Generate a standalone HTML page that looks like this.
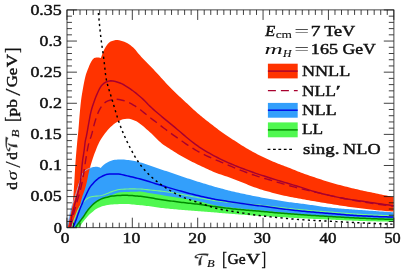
<!DOCTYPE html>
<html lang="en"><head><meta charset="utf-8"><title>Beam thrust spectrum</title>
<style>html,body{margin:0;padding:0;background:#fff;overflow:hidden}svg{display:block;will-change:transform}</style></head>
<body>
<svg width="407" height="272" viewBox="0 0 407 272" role="img" aria-label="Beam thrust spectrum plot">
<rect width="407" height="272" fill="#fff"/>
<defs><clipPath id="c"><rect x="67.0" y="9.9" width="326.9" height="217.8"/></clipPath></defs>
<g clip-path="url(#c)" fill="none" stroke-linejoin="round">
<path d="M71.50,227.50 L72.05,225.86 L72.60,224.23 L73.18,222.61 L73.76,220.99 L74.36,219.37 L74.97,217.76 L75.57,216.14 L76.18,214.52 L76.81,212.91 L77.47,211.32 L78.16,209.74 L78.90,208.20 L79.72,206.68 L80.65,205.23 L81.67,203.83 L82.78,202.49 L83.98,201.29 L85.27,200.09 L86.66,198.93 L88.11,197.93 L89.62,197.22 L91.18,196.82 L92.82,196.52 L94.53,196.30 L96.28,196.12 L98.05,195.93 L99.80,195.72 L101.52,195.45 L103.18,195.07 L104.81,194.50 L106.41,193.84 L108.02,193.20 L109.61,192.53 L111.20,191.86 L112.81,191.26 L114.45,190.73 L116.11,190.21 L117.79,189.76 L119.47,189.45 L121.17,189.31 L122.88,189.19 L124.60,189.09 L126.33,189.01 L128.06,188.95 L129.79,188.91 L131.51,188.90 L133.24,188.91 L134.96,188.92 L136.69,188.94 L138.41,188.97 L140.13,189.00 L141.85,189.09 L143.56,189.24 L145.27,189.43 L146.99,189.65 L148.70,189.86 L150.41,190.04 L152.13,190.21 L153.85,190.37 L155.56,190.53 L157.28,190.70 L158.99,190.88 L160.70,191.08 L162.41,191.30 L164.12,191.52 L165.82,191.76 L167.53,192.01 L169.23,192.27 L170.94,192.54 L172.64,192.81 L174.34,193.09 L176.04,193.38 L177.73,193.68 L179.42,194.00 L181.12,194.33 L182.81,194.66 L184.50,195.01 L186.19,195.35 L187.88,195.69 L189.57,196.02 L191.26,196.34 L192.95,196.67 L194.64,196.99 L196.34,197.32 L198.03,197.64 L199.72,197.95 L201.42,198.26 L203.11,198.57 L204.81,198.89 L206.50,199.20 L208.20,199.50 L209.90,199.80 L211.60,200.08 L213.30,200.35 L215.00,200.60 L216.71,200.84 L218.41,201.06 L220.12,201.28 L221.83,201.49 L223.55,201.69 L225.26,201.89 L226.97,202.08 L228.69,202.26 L230.40,202.44 L232.11,202.62 L233.83,202.78 L235.54,202.94 L237.26,203.10 L238.98,203.25 L240.69,203.41 L242.41,203.56 L244.12,203.72 L245.84,203.88 L247.56,204.03 L249.27,204.19 L250.99,204.34 L252.71,204.50 L254.42,204.66 L256.14,204.82 L257.85,204.98 L259.57,205.16 L261.28,205.34 L262.99,205.53 L264.70,205.72 L266.41,205.93 L268.12,206.14 L269.83,206.35 L271.55,206.56 L273.26,206.76 L274.97,206.97 L276.68,207.16 L278.39,207.36 L280.10,207.54 L281.82,207.73 L283.53,207.92 L285.24,208.10 L286.96,208.28 L288.67,208.46 L290.38,208.64 L292.10,208.82 L293.81,209.00 L295.53,209.18 L297.24,209.35 L298.95,209.52 L300.67,209.69 L302.38,209.86 L304.10,210.02 L305.82,210.17 L307.53,210.32 L309.25,210.46 L310.97,210.60 L312.68,210.74 L314.40,210.87 L316.12,211.00 L317.84,211.13 L319.56,211.27 L321.27,211.40 L322.99,211.53 L324.71,211.66 L326.43,211.79 L328.15,211.92 L329.86,212.05 L331.58,212.17 L333.30,212.30 L335.02,212.43 L336.74,212.56 L338.46,212.68 L340.17,212.81 L341.89,212.94 L343.61,213.08 L345.33,213.22 L347.05,213.36 L348.76,213.50 L350.48,213.63 L352.20,213.77 L353.92,213.90 L355.64,214.02 L357.36,214.14 L359.07,214.25 L360.79,214.35 L362.51,214.44 L364.23,214.54 L365.95,214.63 L367.67,214.73 L369.39,214.82 L371.12,214.91 L372.84,214.99 L374.56,215.08 L376.28,215.16 L378.00,215.24 L379.72,215.31 L381.44,215.39 L383.16,215.46 L384.89,215.52 L386.61,215.59 L388.33,215.65 L390.05,215.70 L391.78,215.75 L393.50,215.80 L393.50,221.70 L391.87,221.68 L390.25,221.66 L388.62,221.63 L386.99,221.60 L385.36,221.57 L383.74,221.54 L382.11,221.51 L380.48,221.48 L378.86,221.44 L377.23,221.40 L375.60,221.36 L373.98,221.33 L372.35,221.29 L370.72,221.24 L369.10,221.20 L367.47,221.16 L365.84,221.11 L364.22,221.06 L362.59,221.01 L360.96,220.95 L359.34,220.90 L357.71,220.84 L356.08,220.78 L354.46,220.72 L352.83,220.65 L351.21,220.59 L349.58,220.52 L347.95,220.46 L346.33,220.39 L344.70,220.31 L343.08,220.24 L341.45,220.16 L339.83,220.08 L338.20,220.00 L336.58,219.92 L334.95,219.84 L333.32,219.76 L331.70,219.68 L330.07,219.60 L328.45,219.53 L326.82,219.46 L325.20,219.39 L323.57,219.32 L321.94,219.25 L320.32,219.18 L318.69,219.11 L317.07,219.04 L315.44,218.97 L313.82,218.90 L312.19,218.83 L310.56,218.76 L308.94,218.69 L307.31,218.61 L305.69,218.53 L304.06,218.45 L302.44,218.37 L300.81,218.29 L299.19,218.21 L297.56,218.12 L295.94,218.03 L294.31,217.94 L292.69,217.85 L291.06,217.76 L289.44,217.67 L287.81,217.57 L286.19,217.47 L284.56,217.37 L282.94,217.27 L281.32,217.17 L279.69,217.07 L278.07,216.96 L276.44,216.87 L274.82,216.77 L273.19,216.68 L271.57,216.58 L269.94,216.49 L268.32,216.40 L266.70,216.30 L265.07,216.21 L263.45,216.11 L261.82,216.01 L260.20,215.91 L258.57,215.81 L256.95,215.70 L255.33,215.60 L253.70,215.49 L252.08,215.38 L250.46,215.27 L248.83,215.16 L247.21,215.04 L245.58,214.93 L243.96,214.81 L242.34,214.70 L240.72,214.58 L239.09,214.46 L237.47,214.34 L235.85,214.21 L234.23,214.09 L232.60,213.96 L230.98,213.83 L229.36,213.69 L227.74,213.56 L226.12,213.43 L224.49,213.29 L222.87,213.15 L221.25,213.02 L219.63,212.88 L218.01,212.75 L216.39,212.61 L214.76,212.48 L213.14,212.35 L211.52,212.22 L209.90,212.09 L208.27,211.96 L206.65,211.83 L205.03,211.70 L203.41,211.57 L201.79,211.44 L200.16,211.31 L198.54,211.19 L196.92,211.06 L195.30,210.94 L193.67,210.82 L192.05,210.70 L190.43,210.57 L188.80,210.45 L187.18,210.33 L185.56,210.20 L183.94,210.07 L182.32,209.94 L180.69,209.80 L179.07,209.66 L177.45,209.52 L175.83,209.37 L174.21,209.22 L172.59,209.07 L170.97,208.91 L169.35,208.75 L167.73,208.59 L166.11,208.42 L164.49,208.24 L162.88,208.07 L161.26,207.88 L159.65,207.69 L158.03,207.49 L156.42,207.27 L154.81,207.03 L153.20,206.79 L151.59,206.55 L149.98,206.32 L148.36,206.11 L146.75,205.91 L145.13,205.72 L143.52,205.54 L141.90,205.37 L140.28,205.20 L138.66,205.04 L137.04,204.89 L135.42,204.74 L133.80,204.59 L132.18,204.42 L130.55,204.26 L128.93,204.12 L127.31,204.03 L125.68,204.00 L124.06,204.01 L122.43,204.04 L120.80,204.08 L119.17,204.12 L117.54,204.17 L115.91,204.23 L114.28,204.31 L112.66,204.40 L111.05,204.51 L109.43,204.68 L107.81,204.94 L106.18,205.27 L104.57,205.67 L102.98,206.11 L101.43,206.60 L99.92,207.13 L98.47,207.71 L97.06,208.45 L95.68,209.35 L94.35,210.35 L93.05,211.39 L91.79,212.44 L90.57,213.50 L89.38,214.61 L88.23,215.78 L87.11,216.98 L86.03,218.20 L84.98,219.43 L83.96,220.70 L82.97,222.00 L82.02,223.32 L81.12,224.68 L80.28,226.07 L79.50,227.50Z" fill="#50F850"/>
<path d="M67.20,227.50 L67.38,226.55 L67.56,225.59 L67.75,224.64 L67.93,223.69 L68.12,222.74 L68.31,221.79 L68.51,220.84 L68.70,219.89 L68.89,218.94 L69.09,217.99 L69.29,217.04 L69.49,216.09 L69.69,215.14 L69.88,214.19 L70.08,213.24 L70.28,212.29 L70.49,211.34 L70.70,210.39 L70.93,209.45 L71.16,208.51 L71.42,207.58 L71.69,206.65 L71.99,205.73 L72.31,204.82 L72.63,203.90 L72.96,202.99 L73.29,202.07 L73.61,201.16 L73.92,200.24 L74.22,199.31 L74.52,198.39 L74.81,197.47 L75.09,196.54 L75.38,195.61 L75.67,194.69 L75.95,193.76 L76.24,192.83 L76.53,191.91 L76.82,190.98 L77.10,190.05 L77.39,189.13 L77.67,188.20 L77.96,187.27 L78.25,186.35 L78.54,185.42 L78.84,184.50 L79.14,183.58 L79.45,182.66 L79.76,181.74 L80.07,180.82 L80.39,179.91 L80.70,178.99 L81.00,178.07 L81.29,177.13 L81.60,176.21 L81.96,175.33 L82.39,174.44 L82.86,173.57 L83.38,172.74 L83.95,171.97 L84.59,171.29 L85.33,170.65 L86.13,170.06 L86.95,169.53 L87.79,169.05 L88.66,168.62 L89.55,168.24 L90.47,167.91 L91.40,167.63 L92.33,167.37 L93.28,167.10 L94.23,166.88 L95.19,166.73 L96.14,166.71 L97.11,166.82 L98.07,167.02 L99.00,167.25 L99.91,167.58 L100.80,168.00 L100.80,168.00 L101.71,166.76 L102.73,165.66 L103.88,164.70 L105.14,163.83 L106.44,163.03 L107.76,162.28 L109.11,161.59 L110.50,161.00 L111.93,160.43 L113.39,160.00 L114.86,159.80 L116.37,159.64 L117.89,159.52 L119.41,159.44 L120.93,159.40 L122.44,159.43 L123.95,159.54 L125.47,159.70 L126.97,159.88 L128.48,160.06 L129.98,160.25 L131.48,160.48 L132.98,160.72 L134.47,161.00 L135.96,161.29 L137.43,161.62 L138.89,161.98 L140.35,162.39 L141.81,162.82 L143.26,163.27 L144.70,163.74 L146.15,164.22 L147.59,164.70 L149.03,165.18 L150.47,165.65 L151.91,166.14 L153.34,166.63 L154.77,167.14 L156.19,167.65 L157.62,168.16 L159.05,168.67 L160.48,169.17 L161.92,169.66 L163.35,170.15 L164.79,170.63 L166.22,171.12 L167.66,171.61 L169.09,172.09 L170.53,172.58 L171.96,173.07 L173.40,173.56 L174.83,174.05 L176.26,174.55 L177.70,175.04 L179.13,175.53 L180.57,176.02 L182.00,176.50 L183.44,176.98 L184.88,177.46 L186.32,177.93 L187.76,178.40 L189.20,178.87 L190.64,179.34 L192.08,179.80 L193.53,180.27 L194.97,180.72 L196.42,181.18 L197.86,181.64 L199.31,182.09 L200.76,182.53 L202.21,182.98 L203.66,183.43 L205.10,183.87 L206.55,184.31 L208.01,184.75 L209.46,185.19 L210.91,185.62 L212.37,186.04 L213.82,186.46 L215.28,186.88 L216.74,187.29 L218.20,187.69 L219.66,188.09 L221.13,188.48 L222.59,188.87 L224.06,189.25 L225.52,189.64 L226.99,190.02 L228.46,190.39 L229.93,190.77 L231.40,191.14 L232.87,191.50 L234.35,191.85 L235.82,192.19 L237.30,192.52 L238.78,192.85 L240.26,193.18 L241.74,193.50 L243.23,193.81 L244.71,194.12 L246.19,194.43 L247.68,194.73 L249.16,195.03 L250.65,195.33 L252.14,195.63 L253.62,195.92 L255.11,196.22 L256.60,196.51 L258.08,196.80 L259.57,197.09 L261.06,197.38 L262.55,197.66 L264.04,197.95 L265.53,198.22 L267.02,198.50 L268.51,198.77 L270.00,199.04 L271.50,199.30 L272.99,199.56 L274.48,199.81 L275.98,200.06 L277.47,200.31 L278.97,200.55 L280.47,200.79 L281.96,201.02 L283.46,201.25 L284.96,201.48 L286.46,201.70 L287.96,201.91 L289.46,202.13 L290.96,202.33 L292.47,202.53 L293.97,202.72 L295.47,202.91 L296.98,203.10 L298.48,203.28 L299.99,203.47 L301.49,203.65 L302.99,203.84 L304.50,204.03 L306.00,204.23 L307.50,204.44 L309.00,204.66 L310.50,204.88 L312.00,205.11 L313.50,205.34 L315.00,205.56 L316.50,205.79 L318.00,206.02 L319.50,206.25 L321.00,206.47 L322.50,206.68 L324.00,206.88 L325.50,207.08 L327.01,207.27 L328.51,207.44 L330.02,207.60 L331.52,207.75 L333.03,207.90 L334.54,208.03 L336.05,208.17 L337.56,208.30 L339.07,208.42 L340.58,208.54 L342.09,208.66 L343.60,208.77 L345.11,208.89 L346.63,209.00 L348.14,209.11 L349.65,209.22 L351.16,209.33 L352.68,209.43 L354.19,209.54 L355.70,209.65 L357.21,209.77 L358.72,209.88 L360.24,209.99 L361.75,210.10 L363.26,210.21 L364.77,210.32 L366.28,210.43 L367.79,210.54 L369.31,210.65 L370.82,210.76 L372.33,210.87 L373.84,210.97 L375.35,211.08 L376.86,211.19 L378.38,211.29 L379.89,211.39 L381.40,211.50 L382.91,211.60 L384.43,211.70 L385.94,211.80 L387.45,211.90 L388.96,212.00 L390.47,212.10 L391.99,212.20 L393.50,212.30 L393.50,218.60 L391.82,218.55 L390.15,218.50 L388.47,218.45 L386.80,218.40 L385.12,218.35 L383.44,218.30 L381.77,218.24 L380.09,218.19 L378.42,218.13 L376.74,218.08 L375.06,218.02 L373.39,217.96 L371.71,217.90 L370.04,217.84 L368.36,217.78 L366.68,217.71 L365.01,217.65 L363.33,217.59 L361.66,217.52 L359.98,217.46 L358.31,217.39 L356.63,217.33 L354.95,217.26 L353.28,217.19 L351.60,217.12 L349.93,217.05 L348.25,216.98 L346.58,216.91 L344.90,216.83 L343.23,216.76 L341.55,216.68 L339.88,216.60 L338.20,216.52 L336.53,216.44 L334.85,216.35 L333.18,216.27 L331.50,216.18 L329.83,216.09 L328.16,216.00 L326.48,215.90 L324.81,215.80 L323.13,215.69 L321.46,215.58 L319.79,215.47 L318.12,215.36 L316.44,215.24 L314.77,215.12 L313.10,215.00 L311.42,214.88 L309.75,214.75 L308.08,214.62 L306.41,214.50 L304.74,214.37 L303.06,214.24 L301.39,214.11 L299.72,213.98 L298.05,213.85 L296.38,213.71 L294.71,213.57 L293.04,213.43 L291.36,213.29 L289.69,213.14 L288.02,212.99 L286.35,212.85 L284.68,212.70 L283.01,212.55 L281.34,212.39 L279.67,212.24 L278.00,212.09 L276.33,211.94 L274.66,211.79 L272.99,211.63 L271.32,211.48 L269.65,211.32 L267.98,211.16 L266.31,211.00 L264.65,210.84 L262.98,210.68 L261.31,210.52 L259.64,210.37 L257.97,210.21 L256.30,210.06 L254.63,209.90 L252.96,209.75 L251.29,209.60 L249.62,209.45 L247.95,209.30 L246.28,209.14 L244.61,208.99 L242.94,208.82 L241.27,208.66 L239.60,208.48 L237.94,208.30 L236.27,208.12 L234.60,207.93 L232.94,207.73 L231.27,207.54 L229.60,207.34 L227.94,207.13 L226.27,206.91 L224.61,206.69 L222.94,206.46 L221.28,206.22 L219.63,205.97 L217.97,205.70 L216.32,205.43 L214.68,205.14 L213.04,204.82 L211.40,204.45 L209.77,204.06 L208.15,203.64 L206.52,203.22 L204.90,202.79 L203.27,202.37 L201.64,201.97 L200.00,201.60 L198.36,201.25 L196.72,200.90 L195.08,200.57 L193.43,200.24 L191.79,199.93 L190.14,199.62 L188.49,199.33 L186.83,199.06 L185.18,198.79 L183.52,198.52 L181.87,198.27 L180.21,198.01 L178.55,197.76 L176.89,197.50 L175.24,197.24 L173.58,196.97 L171.92,196.71 L170.27,196.44 L168.61,196.18 L166.96,195.91 L165.30,195.65 L163.65,195.38 L161.99,195.12 L160.33,194.85 L158.68,194.59 L157.02,194.32 L155.37,194.06 L153.71,193.79 L152.05,193.53 L150.40,193.26 L148.74,192.98 L147.09,192.64 L145.44,192.29 L143.79,191.97 L142.13,191.73 L140.47,191.61 L138.80,191.61 L137.12,191.63 L135.45,191.67 L133.77,191.72 L132.09,191.77 L130.41,191.83 L128.72,191.88 L127.03,191.94 L125.34,192.02 L123.66,192.11 L121.98,192.21 L120.33,192.35 L118.69,192.51 L117.10,192.88 L115.53,193.52 L113.97,194.21 L112.38,194.78 L110.75,195.19 L109.11,195.56 L107.50,196.00 L105.93,196.57 L104.39,197.23 L102.87,197.97 L101.37,198.73 L99.90,199.53 L98.44,200.39 L97.02,201.29 L95.65,202.25 L94.35,203.28 L93.09,204.38 L91.88,205.55 L90.70,206.77 L89.58,208.03 L88.50,209.30 L87.48,210.61 L86.49,211.97 L85.54,213.35 L84.61,214.76 L83.69,216.17 L82.78,217.58 L81.85,218.98 L80.94,220.39 L80.03,221.80 L79.14,223.21 L78.25,224.64 L77.37,226.06 L76.50,227.50Z" fill="#339FFB"/>
<path d="M67.80,227.50 L68.26,225.27 L68.72,223.04 L69.18,220.82 L69.66,218.59 L70.14,216.37 L70.67,214.15 L71.20,211.93 L71.69,209.71 L72.08,207.48 L72.40,205.23 L72.69,202.97 L72.94,200.70 L73.16,198.44 L73.36,196.17 L73.53,193.91 L73.69,191.64 L73.84,189.37 L73.98,187.09 L74.12,184.82 L74.26,182.55 L74.41,180.28 L74.54,178.01 L74.67,175.74 L74.80,173.47 L74.93,171.19 L75.06,168.92 L75.20,166.65 L75.35,164.38 L75.51,162.11 L75.67,159.84 L75.85,157.57 L76.03,155.31 L76.22,153.04 L76.41,150.77 L76.61,148.50 L76.82,146.24 L77.02,143.97 L77.23,141.71 L77.45,139.44 L77.69,137.18 L77.93,134.92 L78.16,132.65 L78.38,130.39 L78.58,128.12 L78.76,125.85 L78.93,123.59 L79.10,121.32 L79.28,119.05 L79.46,116.78 L79.65,114.51 L79.85,112.25 L80.06,109.98 L80.27,107.71 L80.49,105.45 L80.73,103.19 L80.99,100.93 L81.27,98.67 L81.60,96.42 L81.96,94.17 L82.34,91.93 L82.73,89.69 L83.13,87.44 L83.53,85.19 L83.96,82.95 L84.42,80.72 L84.91,78.50 L85.45,76.30 L86.06,74.12 L86.81,71.97 L87.64,69.84 L88.48,67.73 L89.33,65.59 L90.25,63.50 L91.32,61.52 L92.61,59.49 L94.22,58.04 L96.42,57.40 L98.68,57.59 L100.90,58.10 L100.90,58.10 L101.44,56.41 L102.04,54.74 L102.68,53.10 L103.37,51.47 L104.11,49.84 L104.90,48.24 L105.79,46.72 L106.79,45.28 L107.93,43.81 L109.21,42.49 L110.60,41.55 L112.16,40.92 L113.90,40.39 L115.71,40.06 L117.45,40.03 L119.20,40.27 L120.96,40.70 L122.68,41.24 L124.33,41.81 L125.93,42.47 L127.50,43.31 L129.03,44.28 L130.51,45.33 L131.91,46.42 L133.22,47.53 L134.45,48.76 L135.62,50.09 L136.75,51.47 L137.87,52.88 L139.00,54.26 L140.18,55.60 L141.38,56.89 L142.59,58.18 L143.81,59.46 L145.04,60.74 L146.26,62.01 L147.49,63.29 L148.72,64.56 L149.96,65.82 L151.20,67.08 L152.44,68.34 L153.67,69.61 L154.90,70.89 L156.10,72.18 L157.30,73.48 L158.49,74.79 L159.68,76.10 L160.87,77.41 L162.06,78.72 L163.26,80.02 L164.45,81.33 L165.64,82.64 L166.83,83.95 L168.03,85.24 L169.25,86.53 L170.48,87.79 L171.73,89.04 L172.99,90.29 L174.25,91.52 L175.53,92.75 L176.81,93.97 L178.10,95.18 L179.39,96.39 L180.69,97.60 L181.98,98.80 L183.28,100.00 L184.58,101.21 L185.87,102.41 L187.17,103.62 L188.46,104.83 L189.76,106.03 L191.06,107.24 L192.36,108.43 L193.66,109.63 L194.98,110.81 L196.30,111.99 L197.62,113.16 L198.96,114.32 L200.31,115.46 L201.67,116.59 L203.04,117.70 L204.42,118.81 L205.80,119.91 L207.20,121.00 L208.60,122.08 L210.00,123.16 L211.40,124.24 L212.81,125.31 L214.21,126.39 L215.61,127.48 L217.01,128.56 L218.41,129.65 L219.81,130.72 L221.22,131.79 L222.65,132.84 L224.09,133.87 L225.54,134.87 L227.02,135.83 L228.52,136.77 L230.02,137.71 L231.51,138.67 L232.99,139.64 L234.47,140.61 L235.95,141.58 L237.43,142.54 L238.92,143.51 L240.41,144.46 L241.90,145.41 L243.40,146.34 L244.92,147.25 L246.44,148.15 L247.96,149.04 L249.50,149.93 L251.03,150.81 L252.58,151.67 L254.13,152.53 L255.69,153.37 L257.25,154.20 L258.82,155.01 L260.40,155.80 L261.99,156.58 L263.58,157.34 L265.18,158.09 L266.79,158.83 L268.41,159.56 L270.02,160.27 L271.65,160.98 L273.28,161.67 L274.90,162.36 L276.54,163.03 L278.18,163.69 L279.83,164.33 L281.48,164.96 L283.14,165.58 L284.79,166.21 L286.45,166.83 L288.10,167.46 L289.75,168.10 L291.40,168.76 L293.04,169.42 L294.67,170.09 L296.31,170.75 L297.96,171.41 L299.60,172.05 L301.26,172.67 L302.92,173.28 L304.58,173.89 L306.25,174.48 L307.91,175.07 L309.58,175.65 L311.26,176.23 L312.93,176.80 L314.61,177.37 L316.28,177.93 L317.96,178.49 L319.64,179.05 L321.32,179.60 L323.01,180.14 L324.69,180.68 L326.38,181.20 L328.07,181.72 L329.77,182.23 L331.46,182.73 L333.16,183.22 L334.86,183.70 L336.57,184.17 L338.28,184.63 L339.99,185.09 L341.70,185.54 L343.41,185.99 L345.12,186.43 L346.83,186.87 L348.55,187.29 L350.27,187.72 L351.99,188.13 L353.71,188.54 L355.43,188.95 L357.15,189.35 L358.88,189.75 L360.60,190.14 L362.33,190.52 L364.06,190.90 L365.79,191.27 L367.52,191.63 L369.25,192.00 L370.98,192.36 L372.71,192.72 L374.44,193.08 L376.17,193.45 L377.90,193.81 L379.64,194.17 L381.37,194.53 L383.10,194.88 L384.83,195.24 L386.57,195.59 L388.30,195.95 L390.03,196.30 L391.77,196.65 L393.50,197.00 L393.50,211.60 L391.42,211.46 L389.34,211.30 L387.26,211.14 L385.18,210.97 L383.10,210.79 L381.02,210.60 L378.95,210.41 L376.87,210.21 L374.80,210.00 L372.72,209.79 L370.65,209.57 L368.58,209.35 L366.50,209.12 L364.43,208.87 L362.36,208.61 L360.30,208.34 L358.23,208.06 L356.16,207.79 L354.10,207.51 L352.03,207.22 L349.97,206.93 L347.90,206.63 L345.84,206.33 L343.77,206.03 L341.71,205.72 L339.65,205.41 L337.59,205.09 L335.53,204.77 L333.47,204.45 L331.41,204.12 L329.35,203.80 L327.29,203.46 L325.23,203.12 L323.18,202.78 L321.12,202.43 L319.06,202.07 L317.01,201.72 L314.96,201.36 L312.90,201.00 L310.85,200.63 L308.79,200.27 L306.74,199.91 L304.69,199.54 L302.63,199.19 L300.58,198.83 L298.52,198.48 L296.47,198.12 L294.41,197.75 L292.36,197.37 L290.32,196.96 L288.28,196.54 L286.24,196.10 L284.20,195.64 L282.17,195.17 L280.14,194.68 L278.12,194.18 L276.09,193.68 L274.07,193.16 L272.06,192.64 L270.04,192.11 L268.02,191.57 L266.01,191.01 L264.01,190.43 L262.01,189.83 L260.02,189.21 L258.05,188.55 L256.08,187.86 L254.13,187.14 L252.18,186.39 L250.23,185.64 L248.29,184.88 L246.34,184.12 L244.40,183.37 L242.45,182.61 L240.51,181.84 L238.58,181.06 L236.64,180.29 L234.70,179.51 L232.76,178.75 L230.82,178.01 L228.86,177.28 L226.89,176.59 L224.92,175.91 L222.94,175.24 L220.96,174.57 L218.99,173.89 L217.03,173.18 L215.09,172.44 L213.16,171.65 L211.25,170.83 L209.34,169.99 L207.44,169.12 L205.55,168.24 L203.66,167.35 L201.78,166.45 L199.90,165.55 L198.01,164.65 L196.13,163.75 L194.25,162.84 L192.38,161.92 L190.51,160.99 L188.65,160.04 L186.81,159.08 L184.98,158.09 L183.16,157.07 L181.35,156.03 L179.56,154.97 L177.77,153.89 L176.00,152.79 L174.23,151.68 L172.46,150.57 L170.70,149.45 L168.94,148.33 L167.17,147.21 L165.42,146.07 L163.70,144.89 L162.05,143.65 L160.45,142.33 L158.91,140.94 L157.39,139.50 L155.90,138.03 L154.42,136.55 L152.94,135.06 L151.45,133.59 L149.94,132.15 L148.39,130.75 L146.80,129.41 L145.20,128.03 L143.59,126.62 L141.97,125.23 L140.31,123.90 L138.61,122.68 L136.87,121.60 L135.06,120.72 L133.15,119.93 L131.13,119.22 L129.07,118.82 L127.00,118.84 L124.90,119.00 L122.88,119.31 L120.91,120.01 L119.00,120.97 L117.16,121.97 L115.40,123.06 L113.69,124.30 L112.07,125.63 L110.54,127.02 L109.09,128.51 L107.70,130.08 L106.37,131.71 L105.08,133.35 L103.82,135.01 L102.59,136.71 L101.42,138.45 L100.33,140.23 L99.35,142.04 L98.44,143.91 L97.59,145.81 L96.78,147.74 L96.00,149.69 L95.25,151.65 L94.51,153.60 L93.80,155.55 L93.11,157.52 L92.45,159.50 L91.81,161.49 L91.20,163.49 L90.62,165.49 L90.07,167.50 L89.54,169.52 L89.04,171.54 L88.57,173.57 L88.13,175.61 L87.72,177.66 L87.32,179.70 L86.89,181.75 L86.41,183.78 L85.90,185.80 L85.35,187.81 L84.74,189.80 L84.04,191.76 L83.29,193.71 L82.57,195.67 L81.95,197.66 L81.39,199.67 L80.87,201.69 L80.35,203.71 L79.82,205.73 L79.23,207.73 L78.58,209.71 L77.89,211.68 L77.18,213.64 L76.48,215.60 L75.81,217.58 L75.15,219.56 L74.50,221.54 L73.86,223.52 L73.22,225.51 L72.60,227.50Z" fill="#FF3300"/>
<path d="M71.50,227.50 L72.05,225.86 L72.60,224.23 L73.18,222.61 L73.76,220.99 L74.36,219.37 L74.97,217.76 L75.57,216.14 L76.18,214.52 L76.81,212.91 L77.47,211.32 L78.16,209.74 L78.90,208.20 L79.72,206.68 L80.65,205.23 L81.67,203.83 L82.78,202.49 L83.98,201.29 L85.27,200.09 L86.66,198.93 L88.11,197.93 L89.62,197.22 L91.18,196.82 L92.82,196.52 L94.53,196.30 L96.28,196.12 L98.05,195.93 L99.80,195.72 L101.52,195.45 L103.18,195.07 L104.81,194.50 L106.41,193.84 L108.02,193.20 L109.61,192.53 L111.20,191.86 L112.81,191.26 L114.45,190.73 L116.11,190.21 L117.79,189.76 L119.47,189.45 L121.17,189.31 L122.88,189.19 L124.60,189.09 L126.33,189.01 L128.06,188.95 L129.79,188.91 L131.51,188.90 L133.24,188.91 L134.96,188.92 L136.69,188.94 L138.41,188.97 L140.13,189.00 L141.85,189.09 L143.56,189.24 L145.27,189.43 L146.99,189.65 L148.70,189.86 L150.41,190.04 L152.13,190.21 L153.85,190.37 L155.56,190.53 L157.28,190.70 L158.99,190.88 L160.70,191.08 L162.41,191.30 L164.12,191.52 L165.82,191.76 L167.53,192.01 L169.23,192.27 L170.94,192.54 L172.64,192.81 L174.34,193.09 L176.04,193.38 L177.73,193.68 L179.42,194.00 L181.12,194.33 L182.81,194.66 L184.50,195.01 L186.19,195.35 L187.88,195.69 L189.57,196.02 L191.26,196.34 L192.95,196.67 L194.64,196.99 L196.34,197.32 L198.03,197.64 L199.72,197.95 L201.42,198.26 L203.11,198.57 L204.81,198.89 L206.50,199.20 L208.20,199.50 L209.90,199.80 L211.60,200.08 L213.30,200.35 L215.00,200.60 L216.71,200.84 L218.41,201.06 L220.12,201.28 L221.83,201.49 L223.55,201.69 L225.26,201.89 L226.97,202.08 L228.69,202.26 L230.40,202.44 L232.11,202.62 L233.83,202.78 L235.54,202.94 L237.26,203.10 L238.98,203.25 L240.69,203.41 L242.41,203.56 L244.12,203.72 L245.84,203.88 L247.56,204.03 L249.27,204.19 L250.99,204.34 L252.71,204.50 L254.42,204.66 L256.14,204.82 L257.85,204.98 L259.57,205.16 L261.28,205.34 L262.99,205.53 L264.70,205.72 L266.41,205.93 L268.12,206.14 L269.83,206.35 L271.55,206.56 L273.26,206.76 L274.97,206.97 L276.68,207.16 L278.39,207.36 L280.10,207.54 L281.82,207.73 L283.53,207.92 L285.24,208.10 L286.96,208.28 L288.67,208.46 L290.38,208.64 L292.10,208.82 L293.81,209.00 L295.53,209.18 L297.24,209.35 L298.95,209.52 L300.67,209.69 L302.38,209.86 L304.10,210.02 L305.82,210.17 L307.53,210.32 L309.25,210.46 L310.97,210.60 L312.68,210.74 L314.40,210.87 L316.12,211.00 L317.84,211.13 L319.56,211.27 L321.27,211.40 L322.99,211.53 L324.71,211.66 L326.43,211.79 L328.15,211.92 L329.86,212.05 L331.58,212.17 L333.30,212.30 L335.02,212.43 L336.74,212.56 L338.46,212.68 L340.17,212.81 L341.89,212.94 L343.61,213.08 L345.33,213.22 L347.05,213.36 L348.76,213.50 L350.48,213.63 L352.20,213.77 L353.92,213.90 L355.64,214.02 L357.36,214.14 L359.07,214.25 L360.79,214.35 L362.51,214.44 L364.23,214.54 L365.95,214.63 L367.67,214.73 L369.39,214.82 L371.12,214.91 L372.84,214.99 L374.56,215.08 L376.28,215.16 L378.00,215.24 L379.72,215.31 L381.44,215.39 L383.16,215.46 L384.89,215.52 L386.61,215.59 L388.33,215.65 L390.05,215.70 L391.78,215.75 L393.50,215.80" stroke="#74F58A" stroke-width="1.1"/>
<path d="M67.20,227.50 L67.36,226.67 L67.52,225.83 L67.68,225.00 L67.84,224.17 L68.00,223.33 L68.17,222.50 L68.34,221.67 L68.50,220.84 L68.67,220.01 L68.85,219.18 L69.02,218.35 L69.19,217.52 L69.37,216.69 L69.54,215.86 L69.71,215.02 L69.88,214.19 L70.05,213.36 L70.23,212.53 L70.41,211.70 L70.59,210.87 L70.78,210.04 L70.98,209.22 L71.19,208.40 L71.42,207.58 L71.66,206.77 L71.91,205.97 L72.18,205.16 L72.46,204.36 L72.75,203.56 L73.04,202.76 L73.33,201.96 L73.61,201.16 L73.88,200.36 L74.15,199.55 L74.40,198.74 L74.66,197.93 L74.91,197.12 L75.16,196.31 L75.42,195.50 L75.67,194.69 L75.92,193.88 L76.17,193.07 L76.42,192.26 L76.67,191.45 L76.92,190.64 L77.17,189.83 L77.42,189.02 L77.67,188.21 L77.92,187.40 L78.17,186.59 L78.43,185.78 L78.69,184.97 L78.95,184.16 L79.21,183.36 L79.48,182.55 L79.76,181.75 L80.03,180.95 L80.31,180.15 L80.58,179.34 L80.85,178.54 L81.11,177.73 L81.36,176.91 L81.64,176.11 L81.96,175.34 L82.33,174.56 L82.73,173.79 L83.18,173.05 L83.66,172.35 L84.17,171.72 L84.76,171.13 L85.42,170.58 L86.12,170.07 L86.84,169.60 L87.56,169.17 L88.32,168.78 L89.09,168.43 L89.88,168.12 L90.68,167.84 L91.50,167.60" stroke="#9DBFF5" stroke-width="0.9"/>
<path d="M75.50,227.50 L76.43,226.11 L77.39,224.74 L78.36,223.38 L79.35,222.03 L80.38,220.71 L81.42,219.40 L82.44,218.08 L83.41,216.71 L84.35,215.32 L85.26,213.91 L86.18,212.50 L87.13,211.12 L88.12,209.79 L89.17,208.50 L90.27,207.24 L91.42,206.00 L92.61,204.80 L93.85,203.68 L95.14,202.65 L96.49,201.67 L97.90,200.74 L99.37,199.89 L100.87,199.16 L102.40,198.56 L103.99,198.05 L105.62,197.59 L107.24,197.17 L108.87,196.74 L110.50,196.34 L112.14,196.04 L113.79,195.88 L115.45,195.73 L117.12,195.60 L118.79,195.49 L120.47,195.41 L122.15,195.34 L123.82,195.31 L125.49,195.30 L127.16,195.33 L128.83,195.40 L130.50,195.49 L132.17,195.61 L133.84,195.75 L135.51,195.90 L137.18,196.05 L138.85,196.21 L140.51,196.37 L142.17,196.56 L143.83,196.77 L145.48,197.01 L147.14,197.26 L148.79,197.51 L150.45,197.77 L152.10,198.05 L153.74,198.34 L155.39,198.65 L157.03,198.95 L158.68,199.24 L160.33,199.50 L161.98,199.75 L163.64,199.99 L165.29,200.23 L166.95,200.46 L168.61,200.69 L170.27,200.91 L171.92,201.13 L173.58,201.35 L175.24,201.56 L176.90,201.77 L178.56,201.98 L180.22,202.19 L181.88,202.39 L183.54,202.59 L185.20,202.78 L186.86,202.97 L188.53,203.16 L190.19,203.34 L191.85,203.53 L193.51,203.72 L195.17,203.91 L196.83,204.11 L198.49,204.31 L200.15,204.52 L201.81,204.74 L203.47,204.97 L205.12,205.20 L206.78,205.44 L208.44,205.68 L210.09,205.92 L211.75,206.16 L213.40,206.39 L215.06,206.61 L216.72,206.83 L218.38,207.05 L220.04,207.27 L221.69,207.48 L223.35,207.70 L225.01,207.91 L226.67,208.12 L228.33,208.33 L229.99,208.53 L231.65,208.73 L233.32,208.91 L234.98,209.09 L236.64,209.26 L238.30,209.43 L239.97,209.58 L241.64,209.72 L243.30,209.86 L244.97,210.00 L246.64,210.13 L248.30,210.26 L249.97,210.39 L251.64,210.52 L253.31,210.66 L254.97,210.80 L256.64,210.94 L258.31,211.09 L259.97,211.25 L261.64,211.40 L263.30,211.55 L264.97,211.71 L266.63,211.87 L268.30,212.02 L269.96,212.18 L271.63,212.33 L273.29,212.48 L274.96,212.63 L276.63,212.77 L278.29,212.91 L279.96,213.05 L281.63,213.19 L283.29,213.32 L284.96,213.46 L286.63,213.59 L288.29,213.72 L289.96,213.85 L291.63,213.98 L293.30,214.11 L294.97,214.23 L296.63,214.36 L298.30,214.48 L299.97,214.60 L301.64,214.71 L303.31,214.83 L304.97,214.94 L306.64,215.05 L308.31,215.16 L309.98,215.27 L311.65,215.38 L313.32,215.48 L314.99,215.59 L316.66,215.69 L318.33,215.80 L320.00,215.90 L321.67,216.00 L323.34,216.10 L325.01,216.20 L326.68,216.30 L328.34,216.40 L330.01,216.50 L331.68,216.60 L333.35,216.70 L335.02,216.80 L336.69,216.90 L338.36,217.00 L340.03,217.10 L341.70,217.20 L343.37,217.29 L345.04,217.39 L346.71,217.48 L348.38,217.57 L350.05,217.66 L351.72,217.74 L353.39,217.83 L355.06,217.91 L356.73,217.99 L358.40,218.06 L360.07,218.14 L361.74,218.21 L363.42,218.29 L365.09,218.36 L366.76,218.43 L368.43,218.50 L370.10,218.57 L371.77,218.64 L373.44,218.71 L375.11,218.77 L376.78,218.84 L378.45,218.90 L380.13,218.96 L381.80,219.02 L383.47,219.08 L385.14,219.14 L386.81,219.19 L388.48,219.25 L390.16,219.30 L391.83,219.35 L393.50,219.40" stroke="#008A00" stroke-width="1.5"/>
<path d="M73.00,227.50 L73.69,225.85 L74.36,224.19 L75.03,222.52 L75.68,220.86 L76.32,219.19 L76.93,217.50 L77.52,215.81 L78.11,214.12 L78.69,212.42 L79.28,210.74 L79.90,209.05 L80.55,207.39 L81.24,205.74 L81.95,204.09 L82.67,202.45 L83.39,200.81 L84.13,199.18 L84.87,197.55 L85.63,195.93 L86.38,194.30 L87.13,192.65 L87.89,191.01 L88.69,189.41 L89.56,187.86 L90.53,186.39 L91.66,185.00 L92.87,183.67 L94.09,182.35 L95.34,181.06 L96.66,179.86 L98.06,178.73 L99.53,177.68 L101.07,176.81 L102.68,175.99 L104.35,175.22 L106.06,174.60 L107.79,174.24 L109.54,174.12 L111.32,174.03 L113.13,173.97 L114.94,173.92 L116.73,173.90 L118.50,173.96 L120.27,174.21 L122.02,174.61 L123.78,175.06 L125.53,175.49 L127.28,175.88 L129.02,176.26 L130.77,176.66 L132.51,177.07 L134.26,177.49 L135.99,177.92 L137.73,178.36 L139.46,178.81 L141.19,179.28 L142.91,179.77 L144.63,180.27 L146.34,180.79 L148.06,181.31 L149.77,181.83 L151.48,182.35 L153.19,182.88 L154.90,183.41 L156.61,183.95 L158.32,184.48 L160.03,185.00 L161.75,185.53 L163.46,186.05 L165.17,186.57 L166.88,187.10 L168.60,187.61 L170.31,188.13 L172.03,188.64 L173.75,189.14 L175.47,189.63 L177.19,190.12 L178.91,190.61 L180.64,191.09 L182.36,191.57 L184.09,192.04 L185.82,192.51 L187.55,192.97 L189.28,193.42 L191.02,193.86 L192.75,194.30 L194.49,194.73 L196.23,195.15 L197.97,195.57 L199.72,195.99 L201.46,196.40 L203.20,196.80 L204.95,197.19 L206.70,197.58 L208.45,197.96 L210.20,198.34 L211.95,198.71 L213.71,199.06 L215.47,199.39 L217.23,199.70 L218.99,199.99 L220.76,200.28 L222.53,200.56 L224.30,200.83 L226.07,201.11 L227.84,201.39 L229.61,201.67 L231.38,201.94 L233.15,202.22 L234.92,202.49 L236.69,202.75 L238.46,203.02 L240.23,203.28 L242.00,203.55 L243.77,203.81 L245.54,204.06 L247.32,204.31 L249.09,204.54 L250.87,204.77 L252.64,204.99 L254.42,205.21 L256.20,205.42 L257.98,205.64 L259.75,205.87 L261.53,206.10 L263.30,206.34 L265.08,206.58 L266.85,206.82 L268.62,207.07 L270.40,207.31 L272.17,207.56 L273.95,207.80 L275.72,208.03 L277.50,208.26 L279.27,208.49 L281.05,208.72 L282.82,208.94 L284.60,209.16 L286.38,209.37 L288.16,209.59 L289.94,209.79 L291.71,210.00 L293.49,210.20 L295.27,210.39 L297.05,210.59 L298.83,210.78 L300.61,210.96 L302.40,211.14 L304.18,211.32 L305.96,211.49 L307.74,211.66 L309.53,211.82 L311.31,211.97 L313.09,212.12 L314.88,212.27 L316.66,212.42 L318.45,212.57 L320.23,212.72 L322.01,212.87 L323.80,213.01 L325.58,213.16 L327.37,213.30 L329.15,213.44 L330.94,213.58 L332.72,213.72 L334.51,213.86 L336.29,214.00 L338.08,214.15 L339.86,214.30 L341.65,214.45 L343.43,214.61 L345.22,214.76 L347.00,214.90 L348.79,215.05 L350.57,215.18 L352.36,215.31 L354.14,215.43 L355.93,215.54 L357.72,215.64 L359.50,215.73 L361.29,215.82 L363.08,215.91 L364.87,216.00 L366.65,216.09 L368.44,216.18 L370.23,216.26 L372.02,216.34 L373.81,216.42 L375.60,216.49 L377.39,216.56 L379.18,216.63 L380.96,216.69 L382.75,216.75 L384.55,216.80 L386.34,216.85 L388.13,216.90 L389.92,216.94 L391.71,216.97 L393.50,217.00" stroke="#0000E6" stroke-width="1.5"/>
<path d="M70.50,227.50 L70.94,225.31 L71.40,223.12 L71.88,220.94 L72.38,218.77 L72.90,216.60 L73.44,214.44 L74.02,212.28 L74.61,210.13 L75.21,207.98 L75.81,205.83 L76.43,203.68 L77.06,201.54 L77.68,199.40 L78.32,197.26 L78.99,195.12 L79.63,192.99 L80.22,190.84 L80.74,188.67 L81.22,186.49 L81.68,184.31 L82.12,182.12 L82.54,179.92 L82.94,177.72 L83.33,175.53 L83.69,173.33 L84.03,171.12 L84.36,168.91 L84.67,166.70 L85.00,164.49 L85.33,162.28 L85.69,160.08 L86.04,157.87 L86.40,155.66 L86.76,153.45 L87.13,151.25 L87.53,149.05 L87.96,146.87 L88.44,144.69 L88.99,142.54 L89.67,140.42 L90.41,138.31 L91.14,136.19 L91.78,134.05 L92.35,131.90 L92.88,129.73 L93.40,127.55 L93.94,125.38 L94.52,123.23 L95.15,121.09 L95.81,118.94 L96.51,116.80 L97.27,114.70 L98.11,112.65 L99.05,110.65 L100.14,108.65 L101.35,106.72 L102.69,104.93 L104.16,103.34 L105.93,101.85 L107.87,100.87 L109.96,100.21 L112.18,99.67 L114.44,99.33 L116.65,99.26 L118.87,99.50 L121.09,99.95 L123.28,100.51 L125.40,101.12 L127.47,101.88 L129.50,102.83 L131.49,103.91 L133.44,105.06 L135.34,106.21 L137.19,107.41 L139.00,108.70 L140.77,110.05 L142.52,111.45 L144.26,112.87 L145.99,114.30 L147.73,115.72 L149.49,117.11 L151.27,118.46 L153.04,119.82 L154.81,121.18 L156.58,122.54 L158.35,123.90 L160.13,125.26 L161.90,126.62 L163.68,127.97 L165.46,129.31 L167.25,130.65 L169.04,131.98 L170.84,133.29 L172.65,134.60 L174.47,135.88 L176.30,137.16 L178.13,138.44 L179.97,139.73 L181.80,141.01 L183.65,142.28 L185.50,143.55 L187.36,144.80 L189.22,146.04 L191.10,147.25 L192.99,148.44 L194.89,149.60 L196.81,150.73 L198.74,151.82 L200.69,152.87 L202.66,153.88 L204.65,154.87 L206.66,155.83 L208.69,156.76 L210.73,157.68 L212.78,158.58 L214.84,159.47 L216.90,160.34 L218.96,161.21 L221.03,162.08 L223.09,162.94 L225.15,163.81 L227.20,164.68 L229.26,165.55 L231.32,166.42 L233.38,167.28 L235.44,168.14 L237.51,168.99 L239.58,169.82 L241.66,170.65 L243.74,171.45 L245.83,172.24 L247.92,173.01 L250.02,173.76 L252.12,174.48 L254.24,175.19 L256.36,175.88 L258.49,176.56 L260.62,177.22 L262.75,177.87 L264.89,178.52 L267.03,179.16 L269.18,179.79 L271.32,180.42 L273.46,181.05 L275.60,181.68 L277.74,182.31 L279.89,182.93 L282.03,183.56 L284.18,184.18 L286.32,184.79 L288.47,185.40 L290.62,186.00 L292.77,186.59 L294.93,187.18 L297.09,187.75 L299.25,188.31 L301.41,188.85 L303.57,189.39 L305.74,189.92 L307.91,190.44 L310.09,190.95 L312.26,191.45 L314.44,191.95 L316.62,192.44 L318.79,192.93 L320.97,193.41 L323.15,193.89 L325.33,194.37 L327.51,194.86 L329.69,195.35 L331.87,195.84 L334.05,196.33 L336.23,196.81 L338.41,197.30 L340.59,197.78 L342.78,198.25 L344.96,198.71 L347.15,199.16 L349.34,199.60 L351.53,200.02 L353.72,200.43 L355.91,200.82 L358.11,201.18 L360.31,201.54 L362.51,201.90 L364.71,202.25 L366.92,202.59 L369.12,202.92 L371.33,203.25 L373.54,203.57 L375.75,203.88 L377.96,204.18 L380.18,204.47 L382.39,204.75 L384.61,205.02 L386.83,205.28 L389.05,205.53 L391.28,205.77 L393.50,206.00" stroke="#A8002E" stroke-width="1.4" stroke-dasharray="8.2 4.8"/>
<path d="M69.80,227.50 L70.18,225.15 L70.58,222.81 L71.01,220.48 L71.47,218.15 L71.95,215.82 L72.47,213.50 L73.01,211.19 L73.58,208.88 L74.16,206.58 L74.76,204.28 L75.39,201.99 L76.01,199.70 L76.64,197.41 L77.30,195.12 L77.93,192.83 L78.51,190.53 L79.06,188.22 L79.58,185.90 L80.04,183.57 L80.41,181.23 L80.72,178.88 L80.99,176.52 L81.24,174.16 L81.46,171.79 L81.68,169.42 L81.90,167.05 L82.13,164.69 L82.39,162.32 L82.68,159.97 L83.02,157.62 L83.40,155.27 L83.77,152.92 L84.12,150.57 L84.42,148.22 L84.68,145.85 L84.95,143.49 L85.28,141.14 L85.77,138.82 L86.33,136.51 L86.80,134.18 L87.22,131.85 L87.63,129.51 L88.03,127.17 L88.45,124.83 L88.88,122.49 L89.29,120.15 L89.71,117.80 L90.15,115.47 L90.64,113.15 L91.19,110.85 L91.82,108.56 L92.53,106.29 L93.28,104.03 L94.07,101.78 L94.86,99.55 L95.69,97.32 L96.58,95.11 L97.53,92.94 L98.53,90.74 L99.60,88.57 L100.82,86.57 L102.31,84.77 L104.14,83.10 L106.15,81.94 L108.40,81.16 L110.77,80.75 L113.10,80.93 L115.44,81.47 L117.76,82.21 L119.99,83.00 L122.14,83.90 L124.24,85.01 L126.29,86.28 L128.30,87.61 L130.27,88.93 L132.21,90.29 L134.12,91.71 L135.99,93.18 L137.84,94.69 L139.65,96.23 L141.44,97.80 L143.20,99.39 L144.89,101.06 L146.54,102.77 L148.19,104.48 L149.89,106.15 L151.63,107.76 L153.38,109.35 L155.16,110.92 L156.95,112.49 L158.75,114.04 L160.56,115.57 L162.38,117.10 L164.21,118.63 L166.04,120.14 L167.87,121.65 L169.71,123.16 L171.55,124.67 L173.39,126.17 L175.22,127.68 L177.05,129.21 L178.87,130.74 L180.69,132.29 L182.50,133.84 L184.32,135.39 L186.15,136.93 L187.98,138.46 L189.82,139.96 L191.68,141.45 L193.55,142.90 L195.45,144.32 L197.36,145.70 L199.30,147.04 L201.27,148.32 L203.26,149.59 L205.28,150.83 L207.33,152.04 L209.39,153.23 L211.47,154.40 L213.57,155.54 L215.68,156.66 L217.80,157.75 L219.93,158.82 L222.07,159.86 L224.21,160.88 L226.36,161.87 L228.52,162.84 L230.69,163.78 L232.88,164.70 L235.08,165.60 L237.29,166.48 L239.51,167.35 L241.74,168.20 L243.97,169.04 L246.20,169.86 L248.43,170.68 L250.66,171.49 L252.90,172.28 L255.14,173.06 L257.39,173.83 L259.64,174.58 L261.90,175.33 L264.16,176.06 L266.42,176.79 L268.68,177.51 L270.95,178.23 L273.22,178.94 L275.48,179.65 L277.75,180.35 L280.02,181.04 L282.30,181.73 L284.58,182.40 L286.85,183.07 L289.13,183.74 L291.41,184.41 L293.69,185.09 L295.97,185.77 L298.24,186.46 L300.51,187.16 L302.77,187.88 L305.03,188.63 L307.28,189.38 L309.54,190.12 L311.80,190.85 L314.07,191.53 L316.36,192.18 L318.65,192.81 L320.95,193.41 L323.25,194.00 L325.56,194.57 L327.87,195.11 L330.18,195.64 L332.50,196.15 L334.83,196.65 L337.15,197.12 L339.49,197.59 L341.82,198.03 L344.16,198.45 L346.50,198.85 L348.84,199.23 L351.19,199.60 L353.54,199.95 L355.89,200.29 L358.24,200.64 L360.59,200.99 L362.94,201.34 L365.29,201.69 L367.64,202.03 L369.99,202.38 L372.34,202.73 L374.69,203.07 L377.04,203.41 L379.39,203.75 L381.74,204.09 L384.09,204.43 L386.44,204.76 L388.80,205.09 L391.15,205.42 L393.50,205.75" stroke="#A8002E" stroke-width="1.45"/>
<path d="M97.30,2.00 L97.45,3.46 L97.59,4.91 L97.74,6.37 L97.88,7.83 L98.03,9.28 L98.17,10.74 L98.32,12.19 L98.46,13.65 L98.60,15.11 L98.74,16.57 L98.88,18.02 L99.02,19.48 L99.16,20.94 L99.30,22.40 L99.44,23.85 L99.58,25.31 L99.72,26.77 L99.87,28.22 L100.01,29.68 L100.17,31.13 L100.32,32.59 L100.48,34.05 L100.64,35.50 L100.80,36.95 L100.97,38.41 L101.15,39.86 L101.34,41.31 L101.53,42.76 L101.73,44.21 L101.94,45.66 L102.14,47.11 L102.35,48.56 L102.56,50.01 L102.78,51.45 L102.99,52.90 L103.19,54.35 L103.40,55.80 L103.59,57.25 L103.79,58.70 L103.97,60.16 L104.14,61.61 L104.30,63.07 L104.46,64.53 L104.61,65.99 L104.76,67.45 L104.91,68.91 L105.06,70.37 L105.23,71.82 L105.40,73.27 L105.59,74.72 L105.79,76.16 L106.02,77.60 L106.27,79.03 L106.55,80.46 L106.87,81.88 L107.21,83.30 L107.57,84.71 L107.95,86.13 L108.35,87.54 L108.77,88.94 L109.19,90.35 L109.63,91.76 L110.07,93.16 L110.51,94.56 L110.96,95.96 L111.40,97.37 L111.83,98.77 L112.25,100.17 L112.67,101.58 L113.08,102.98 L113.49,104.39 L113.90,105.80 L114.31,107.20 L114.72,108.61 L115.14,110.02 L115.55,111.42 L115.98,112.83 L116.40,114.23 L116.84,115.63 L117.28,117.03 L117.73,118.42 L118.18,119.81 L118.65,121.19 L119.13,122.57 L119.62,123.95 L120.12,125.32 L120.63,126.68 L121.16,128.04 L121.69,129.40 L122.24,130.76 L122.80,132.12 L123.37,133.47 L123.96,134.82 L124.55,136.16 L125.15,137.50 L125.76,138.84 L126.38,140.17 L127.01,141.49 L127.65,142.81 L128.29,144.12 L128.95,145.43 L129.61,146.73 L130.27,148.03 L130.95,149.32 L131.64,150.62 L132.33,151.91 L133.04,153.20 L133.76,154.49 L134.50,155.76 L135.25,157.03 L136.01,158.29 L136.78,159.54 L137.58,160.77 L138.38,161.99 L139.20,163.19 L140.04,164.38 L140.90,165.54 L141.79,166.69 L142.71,167.83 L143.65,168.95 L144.62,170.06 L145.61,171.16 L146.62,172.23 L147.64,173.29 L148.68,174.33 L149.73,175.34 L150.78,176.33 L151.86,177.31 L152.97,178.27 L154.08,179.22 L155.22,180.15 L156.37,181.07 L157.53,181.97 L158.71,182.86 L159.89,183.73 L161.07,184.59 L162.26,185.44 L163.46,186.27 L164.67,187.09 L165.89,187.90 L167.12,188.70 L168.37,189.48 L169.62,190.25 L170.88,191.00 L172.15,191.74 L173.42,192.45 L174.71,193.15 L176.00,193.82 L177.30,194.48 L178.61,195.13 L179.94,195.77 L181.27,196.39 L182.61,196.99 L183.95,197.58 L185.31,198.14 L186.66,198.68 L188.03,199.20 L189.40,199.68 L190.79,200.15 L192.18,200.59 L193.58,201.03 L194.98,201.45 L196.39,201.87 L197.79,202.30 L199.19,202.74 L200.58,203.19 L201.97,203.66 L203.35,204.15 L204.73,204.64 L206.12,205.14 L207.50,205.64 L208.88,206.12 L210.27,206.59 L211.66,207.04 L213.05,207.47 L214.46,207.86 L215.87,208.22 L217.29,208.55 L218.72,208.87 L220.15,209.18 L221.59,209.47 L223.03,209.75 L224.47,210.02 L225.91,210.28 L227.35,210.54 L228.79,210.79 L230.24,211.03 L231.68,211.26 L233.13,211.48 L234.58,211.71 L236.02,211.94 L237.47,212.18 L238.91,212.42 L240.35,212.66 L241.80,212.90 L243.24,213.14 L244.69,213.38 L246.13,213.61 L247.58,213.84 L249.02,214.06 L250.47,214.27 L251.92,214.49 L253.37,214.70 L254.82,214.91 L256.27,215.11 L257.72,215.30 L259.17,215.49 L260.62,215.68 L262.07,215.86 L263.53,216.03 L264.98,216.20 L266.43,216.37 L267.89,216.53 L269.34,216.70 L270.80,216.85 L272.25,217.01 L273.71,217.16 L275.16,217.31 L276.62,217.46 L278.08,217.61 L279.53,217.76 L280.99,217.90 L282.45,218.05 L283.90,218.19 L285.36,218.34 L286.82,218.48 L288.27,218.62 L289.73,218.76 L291.19,218.89 L292.65,219.02 L294.11,219.14 L295.56,219.26 L297.02,219.38 L298.48,219.49 L299.94,219.60 L301.40,219.70 L302.86,219.79 L304.32,219.88 L305.78,219.97 L307.24,220.06 L308.70,220.14 L310.17,220.22 L311.63,220.30 L313.09,220.38 L314.55,220.46 L316.01,220.53 L317.48,220.61 L318.94,220.68 L320.40,220.76 L321.86,220.83 L323.32,220.91 L324.78,220.99 L326.25,221.07 L327.71,221.15 L329.17,221.22 L330.63,221.30 L332.09,221.38 L333.55,221.46 L335.02,221.53 L336.48,221.61 L337.94,221.69 L339.40,221.76 L340.86,221.84 L342.32,221.91 L343.79,221.99 L345.25,222.06 L346.71,222.13 L348.17,222.21 L349.63,222.28 L351.09,222.35 L352.56,222.43 L354.02,222.50 L355.48,222.58 L356.94,222.65 L358.40,222.72 L359.87,222.79 L361.33,222.87 L362.79,222.94 L364.25,223.01 L365.71,223.08 L367.18,223.15 L368.64,223.22 L370.10,223.29 L371.56,223.35 L373.02,223.42 L374.49,223.48 L375.95,223.54 L377.41,223.60 L378.87,223.66 L380.34,223.72 L381.80,223.78 L383.26,223.83 L384.72,223.89 L386.19,223.94 L387.65,224.00 L389.11,224.05 L390.57,224.10 L392.04,224.15 L393.50,224.20" stroke="#000" stroke-width="1.45" stroke-dasharray="2.2 3.3"/>
</g>
<path d="M66.95,227.70v-10.0M66.95,9.95v10.0M73.49,227.70v-5.0M73.49,9.95v5.0M80.02,227.70v-5.0M80.02,9.95v5.0M86.56,227.70v-5.0M86.56,9.95v5.0M93.10,227.70v-5.0M93.10,9.95v5.0M99.64,227.70v-5.0M99.64,9.95v5.0M106.17,227.70v-5.0M106.17,9.95v5.0M112.71,227.70v-5.0M112.71,9.95v5.0M119.25,227.70v-5.0M119.25,9.95v5.0M125.78,227.70v-5.0M125.78,9.95v5.0M132.32,227.70v-10.0M132.32,9.95v10.0M138.86,227.70v-5.0M138.86,9.95v5.0M145.39,227.70v-5.0M145.39,9.95v5.0M151.93,227.70v-5.0M151.93,9.95v5.0M158.47,227.70v-5.0M158.47,9.95v5.0M165.00,227.70v-5.0M165.00,9.95v5.0M171.54,227.70v-5.0M171.54,9.95v5.0M178.08,227.70v-5.0M178.08,9.95v5.0M184.62,227.70v-5.0M184.62,9.95v5.0M191.15,227.70v-5.0M191.15,9.95v5.0M197.69,227.70v-10.0M197.69,9.95v10.0M204.23,227.70v-5.0M204.23,9.95v5.0M210.76,227.70v-5.0M210.76,9.95v5.0M217.30,227.70v-5.0M217.30,9.95v5.0M223.84,227.70v-5.0M223.84,9.95v5.0M230.38,227.70v-5.0M230.38,9.95v5.0M236.91,227.70v-5.0M236.91,9.95v5.0M243.45,227.70v-5.0M243.45,9.95v5.0M249.99,227.70v-5.0M249.99,9.95v5.0M256.52,227.70v-5.0M256.52,9.95v5.0M263.06,227.70v-10.0M263.06,9.95v10.0M269.60,227.70v-5.0M269.60,9.95v5.0M276.13,227.70v-5.0M276.13,9.95v5.0M282.67,227.70v-5.0M282.67,9.95v5.0M289.21,227.70v-5.0M289.21,9.95v5.0M295.75,227.70v-5.0M295.75,9.95v5.0M302.28,227.70v-5.0M302.28,9.95v5.0M308.82,227.70v-5.0M308.82,9.95v5.0M315.36,227.70v-5.0M315.36,9.95v5.0M321.89,227.70v-5.0M321.89,9.95v5.0M328.43,227.70v-10.0M328.43,9.95v10.0M334.97,227.70v-5.0M334.97,9.95v5.0M341.50,227.70v-5.0M341.50,9.95v5.0M348.04,227.70v-5.0M348.04,9.95v5.0M354.58,227.70v-5.0M354.58,9.95v5.0M361.12,227.70v-5.0M361.12,9.95v5.0M367.65,227.70v-5.0M367.65,9.95v5.0M374.19,227.70v-5.0M374.19,9.95v5.0M380.73,227.70v-5.0M380.73,9.95v5.0M387.26,227.70v-5.0M387.26,9.95v5.0M393.80,227.70v-10.0M393.80,9.95v10.0M66.95,227.70h10.0M393.80,227.70h-10.0M66.95,221.48h5.0M393.80,221.48h-5.0M66.95,215.26h5.0M393.80,215.26h-5.0M66.95,209.04h5.0M393.80,209.04h-5.0M66.95,202.81h5.0M393.80,202.81h-5.0M66.95,196.59h10.0M393.80,196.59h-10.0M66.95,190.37h5.0M393.80,190.37h-5.0M66.95,184.15h5.0M393.80,184.15h-5.0M66.95,177.93h5.0M393.80,177.93h-5.0M66.95,171.71h5.0M393.80,171.71h-5.0M66.95,165.49h10.0M393.80,165.49h-10.0M66.95,159.26h5.0M393.80,159.26h-5.0M66.95,153.04h5.0M393.80,153.04h-5.0M66.95,146.82h5.0M393.80,146.82h-5.0M66.95,140.60h5.0M393.80,140.60h-5.0M66.95,134.38h10.0M393.80,134.38h-10.0M66.95,128.16h5.0M393.80,128.16h-5.0M66.95,121.94h5.0M393.80,121.94h-5.0M66.95,115.71h5.0M393.80,115.71h-5.0M66.95,109.49h5.0M393.80,109.49h-5.0M66.95,103.27h10.0M393.80,103.27h-10.0M66.95,97.05h5.0M393.80,97.05h-5.0M66.95,90.83h5.0M393.80,90.83h-5.0M66.95,84.61h5.0M393.80,84.61h-5.0M66.95,78.39h5.0M393.80,78.39h-5.0M66.95,72.16h10.0M393.80,72.16h-10.0M66.95,65.94h5.0M393.80,65.94h-5.0M66.95,59.72h5.0M393.80,59.72h-5.0M66.95,53.50h5.0M393.80,53.50h-5.0M66.95,47.28h5.0M393.80,47.28h-5.0M66.95,41.06h10.0M393.80,41.06h-10.0M66.95,34.84h5.0M393.80,34.84h-5.0M66.95,28.61h5.0M393.80,28.61h-5.0M66.95,22.39h5.0M393.80,22.39h-5.0M66.95,16.17h5.0M393.80,16.17h-5.0M66.95,9.95h10.0M393.80,9.95h-10.0" stroke="#111" stroke-width="0.8" fill="none"/>
<rect x="67.0" y="9.9" width="326.9" height="217.8" fill="none" stroke="#1a1a1a" stroke-width="0.8"/>
<g fill="#111" style="filter:grayscale(1)">
<text transform="translate(53.72,232.60) scale(1.1259,1)" font-size="14.5" font-family="'Liberation Serif', 'DejaVu Serif', serif" stroke="#111" stroke-width="0.45">0</text>
<text transform="translate(30.39,201.19) scale(1.2364,1)" font-size="14.5" font-family="'Liberation Serif', 'DejaVu Serif', serif" stroke="#111" stroke-width="0.45">0.05</text>
<text transform="translate(39.59,170.09) scale(1.2406,1)" font-size="14.5" font-family="'Liberation Serif', 'DejaVu Serif', serif" stroke="#111" stroke-width="0.45">0.1</text>
<text transform="translate(30.39,138.98) scale(1.2364,1)" font-size="14.5" font-family="'Liberation Serif', 'DejaVu Serif', serif" stroke="#111" stroke-width="0.45">0.15</text>
<text transform="translate(39.59,107.87) scale(1.2406,1)" font-size="14.5" font-family="'Liberation Serif', 'DejaVu Serif', serif" stroke="#111" stroke-width="0.45">0.2</text>
<text transform="translate(30.39,76.76) scale(1.2364,1)" font-size="14.5" font-family="'Liberation Serif', 'DejaVu Serif', serif" stroke="#111" stroke-width="0.45">0.25</text>
<text transform="translate(39.59,45.66) scale(1.2229,1)" font-size="14.5" font-family="'Liberation Serif', 'DejaVu Serif', serif" stroke="#111" stroke-width="0.45">0.3</text>
<text transform="translate(30.39,14.55) scale(1.2364,1)" font-size="14.5" font-family="'Liberation Serif', 'DejaVu Serif', serif" stroke="#111" stroke-width="0.45">0.35</text>
<text transform="translate(60.80,243.00) scale(1.2000,1)" font-size="14.5" font-family="'Liberation Serif', 'DejaVu Serif', serif" stroke="#111" stroke-width="0.45">0</text>
<text transform="translate(122.58,243.00) scale(1.2226,1)" font-size="14.5" font-family="'Liberation Serif', 'DejaVu Serif', serif" stroke="#111" stroke-width="0.45">10</text>
<text transform="translate(188.29,243.00) scale(1.2218,1)" font-size="14.5" font-family="'Liberation Serif', 'DejaVu Serif', serif" stroke="#111" stroke-width="0.45">20</text>
<text transform="translate(253.71,243.00) scale(1.1782,1)" font-size="14.5" font-family="'Liberation Serif', 'DejaVu Serif', serif" stroke="#111" stroke-width="0.45">30</text>
<text transform="translate(319.40,243.00) scale(1.1719,1)" font-size="14.5" font-family="'Liberation Serif', 'DejaVu Serif', serif" stroke="#111" stroke-width="0.45">40</text>
<text transform="translate(384.44,243.00) scale(1.1200,1)" font-size="14.5" font-family="'Liberation Serif', 'DejaVu Serif', serif" stroke="#111" stroke-width="0.45">50</text>
<text transform="translate(301.89,75.60) scale(1.2503,1)" font-size="14.5" font-family="'Liberation Serif', 'DejaVu Serif', serif" stroke="#111" stroke-width="0.45">NNLL</text>
<text transform="translate(301.90,95.90) scale(1.2037,1)" font-size="14.5" font-family="'Liberation Serif', 'DejaVu Serif', serif" stroke="#111" stroke-width="0.45">NLL</text>
<text transform="translate(335.80,95.90) scale(1.6000,1)" font-size="14.5" font-family="'Liberation Serif', 'DejaVu Serif', serif" stroke="#111" stroke-width="0.45">&#8242;</text>
<text transform="translate(301.89,114.80) scale(1.2294,1)" font-size="14.5" font-family="'Liberation Serif', 'DejaVu Serif', serif" stroke="#111" stroke-width="0.45">NLL</text>
<text transform="translate(301.90,134.00) scale(1.1940,1)" font-size="14.5" font-family="'Liberation Serif', 'DejaVu Serif', serif" stroke="#111" stroke-width="0.45">LL</text>
<text transform="translate(303.07,153.80) scale(1.3084,1)" font-size="14.5" font-family="'Liberation Serif', 'DejaVu Serif', serif" stroke="#111" stroke-width="0.45">sing.</text>
<text transform="translate(343.09,153.80) scale(1.2581,1)" font-size="14.5" font-family="'Liberation Serif', 'DejaVu Serif', serif" stroke="#111" stroke-width="0.45">NLO</text>
<text transform="translate(265.16,35.50) scale(1.1243,1)" font-size="14.5" font-family="'Liberation Serif', 'DejaVu Serif', serif" font-style="italic" stroke="#111" stroke-width="0.45">E</text>
<text transform="translate(275.68,38.40) scale(1.2720,1)" font-size="10.5" font-family="'Liberation Serif', 'DejaVu Serif', serif" stroke="#111" stroke-width="0.1">cm</text>
<text transform="translate(294.33,35.50) scale(1.8222,1)" font-size="14.5" font-family="'Liberation Serif', 'DejaVu Serif', serif">=</text>
<text transform="translate(310.79,35.50) scale(1.3440,1)" font-size="14.5" font-family="'Liberation Serif', 'DejaVu Serif', serif" stroke="#111" stroke-width="0.45">7</text>
<text transform="translate(324.20,35.50) scale(1.2525,1)" font-size="14.5" font-family="'Liberation Serif', 'DejaVu Serif', serif" stroke="#111" stroke-width="0.45">TeV</text>
<text transform="translate(264.52,54.10) scale(1.7514,1)" font-size="14.5" font-family="'Liberation Serif', 'DejaVu Serif', serif" font-style="italic">m</text>
<text transform="translate(283.06,56.90) scale(1.0444,1)" font-size="11.2" font-family="'Liberation Serif', 'DejaVu Serif', serif" font-style="italic" stroke="#111" stroke-width="0.2">H</text>
<text transform="translate(294.33,54.10) scale(1.8222,1)" font-size="14.5" font-family="'Liberation Serif', 'DejaVu Serif', serif">=</text>
<text transform="translate(310.85,54.10) scale(1.2488,1)" font-size="14.5" font-family="'Liberation Serif', 'DejaVu Serif', serif" stroke="#111" stroke-width="0.45">165</text>
<text transform="translate(342.40,54.10) scale(1.2183,1)" font-size="14.5" font-family="'Liberation Serif', 'DejaVu Serif', serif" stroke="#111" stroke-width="0.45">GeV</text>
<text transform="translate(193.13,264.60) scale(1.0143,1)" font-size="14.5" font-family="'DejaVu Math TeX Gyre', 'DejaVu Serif', serif" fill="#333" stroke="#fff" stroke-width="0.22">&#120035;</text>
<text transform="translate(207.10,266.70) scale(1.1111,1)" font-size="11.2" font-family="'Liberation Serif', 'DejaVu Serif', serif" font-style="italic" stroke="#111" stroke-width="0.2">B</text>
<text transform="translate(222.07,264.50) scale(0.8235,1)" font-size="18.3" font-family="'Liberation Serif', 'DejaVu Serif', serif" stroke="#111" stroke-width="0.3">[</text>
<text transform="translate(227.53,264.30) scale(1.0727,1)" font-size="14.5" font-family="'Liberation Serif', 'DejaVu Serif', serif" stroke="#111" stroke-width="0.45">Ge</text>
<text transform="translate(246.20,264.30) scale(1.3333,1)" font-size="14.5" font-family="'Liberation Serif', 'DejaVu Serif', serif" stroke="#111" stroke-width="0.45">V</text>
<text transform="translate(261.62,264.50) scale(0.7556,1)" font-size="18.3" font-family="'Liberation Serif', 'DejaVu Serif', serif" stroke="#111" stroke-width="0.3">]</text>
<g transform="translate(16.9,189.4) rotate(-90)">
<text transform="translate(-0.26,0.00) scale(1.0571,1)" font-size="14.5" font-family="'Liberation Serif', 'DejaVu Serif', serif" stroke="#111" stroke-width="0.45">d</text>
<text transform="translate(9.18,0.00) scale(1.2800,1)" font-size="14.5" font-family="'Liberation Serif', 'DejaVu Serif', serif" font-style="italic" stroke="#111" stroke-width="0.15">&#963;</text>
<text transform="translate(21.70,2.70) scale(1.1478,1)" font-size="20" font-family="'Liberation Serif', 'DejaVu Serif', serif" stroke="#111" stroke-width="0.15">/</text>
<text transform="translate(29.54,0.00) scale(1.0571,1)" font-size="14.5" font-family="'Liberation Serif', 'DejaVu Serif', serif" stroke="#111" stroke-width="0.45">d</text>
<text transform="translate(36.69,0.00) scale(1.0500,1)" font-size="14.5" font-family="'DejaVu Math TeX Gyre', 'DejaVu Serif', serif" fill="#333" stroke="#fff" stroke-width="0.22">&#120035;</text>
<text transform="translate(51.80,2.20) scale(1.1556,1)" font-size="11.2" font-family="'Liberation Serif', 'DejaVu Serif', serif" font-style="italic" stroke="#111" stroke-width="0.2">B</text>
<text transform="translate(67.51,0.70) scale(0.8706,1)" font-size="18.3" font-family="'Liberation Serif', 'DejaVu Serif', serif" stroke="#111" stroke-width="0.3">[</text>
<text transform="translate(73.00,0.00) scale(1.1930,1)" font-size="14.5" font-family="'Liberation Serif', 'DejaVu Serif', serif" stroke="#111" stroke-width="0.45">pb</text>
<text transform="translate(93.60,2.70) scale(1.2870,1)" font-size="20" font-family="'Liberation Serif', 'DejaVu Serif', serif" stroke="#111" stroke-width="0.15">/</text>
<text transform="translate(102.11,0.00) scale(1.1515,1)" font-size="14.5" font-family="'Liberation Serif', 'DejaVu Serif', serif" stroke="#111" stroke-width="0.45">Ge</text>
<text transform="translate(122.10,0.00) scale(1.2667,1)" font-size="14.5" font-family="'Liberation Serif', 'DejaVu Serif', serif" stroke="#111" stroke-width="0.45">V</text>
<text transform="translate(136.36,0.70) scale(0.8889,1)" font-size="18.3" font-family="'Liberation Serif', 'DejaVu Serif', serif" stroke="#111" stroke-width="0.3">]</text>
</g>
</g>
<rect x="267.9" y="63.7" width="29.8" height="14.7" fill="#FF3300"/>
<path d="M267.9,71.1h29.8" stroke="#A8002E" stroke-width="1.4"/>
<path d="M267.9,90.6h29.8" stroke="#A8002E" stroke-width="1.35" stroke-dasharray="8 5"/>
<rect x="267.9" y="102.9" width="29.8" height="14.8" fill="#339FFB"/>
<path d="M267.9,110.2h29.8" stroke="#0000E6" stroke-width="1.4"/>
<rect x="267.9" y="122.4" width="29.8" height="14.9" fill="#50F850"/>
<path d="M267.9,129.9h29.8" stroke="#008A00" stroke-width="1.4"/>
<path d="M267.6,149.35h27" stroke="#000" stroke-width="1.4" stroke-dasharray="2.8 2.6"/>
</svg>
</body></html>
